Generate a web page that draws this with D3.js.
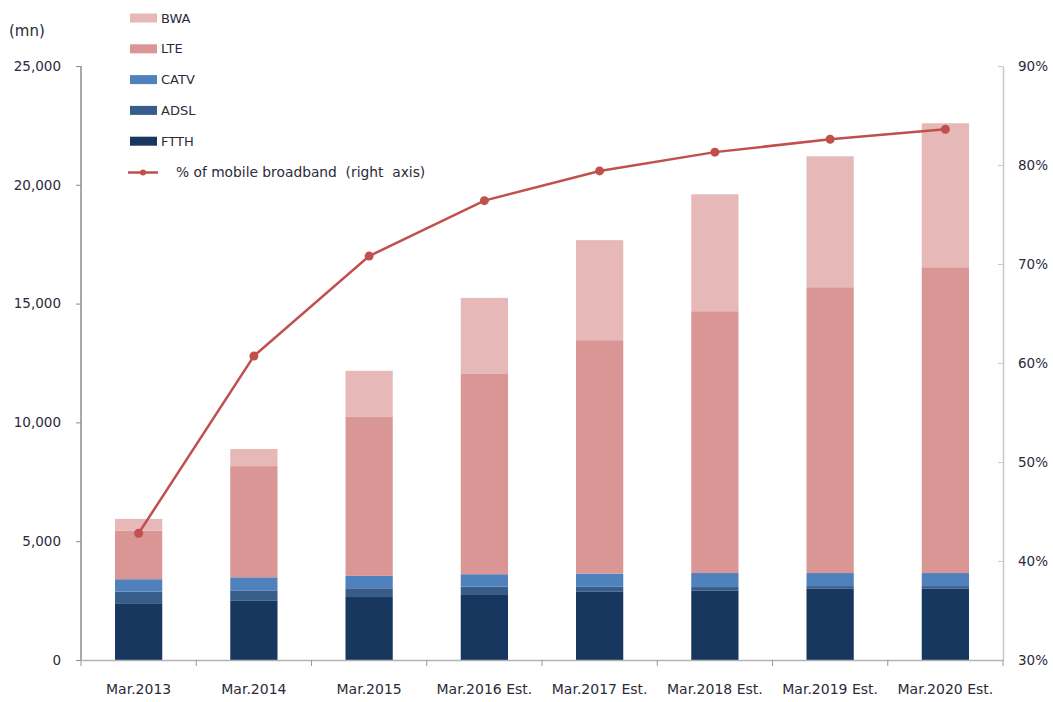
<!DOCTYPE html>
<html>
<head>
<meta charset="utf-8">
<script src="https://cdn.jsdelivr.net/npm/d3@7"></script>
<style>
  body { margin: 0; background: #fff; }
  svg text { font-family: "DejaVu Sans", Verdana, sans-serif; fill: #2b2b3a; }
</style>
</head>
<body>
<div id="chart"></div>
<script>
// categories and series (mn subscribers)
const Categories = ['Mar.2013', 'Mar.2014', 'Mar.2015', 'Mar.2016 Est.', 'Mar.2017 Est.', 'Mar.2018 Est.', 'Mar.2019 Est.', 'Mar.2020 Est.'];
const FTTH = [2360, 2510, 2650, 2770, 2870, 2930, 3000, 3000];
const ADSL = [520, 420, 370, 320, 210, 140, 110, 110];
const CATV = [520, 550, 520, 520, 560, 590, 550, 550];
const LTE  = [2050, 4680, 6690, 8430, 9820, 11020, 12030, 12870];
const BWA  = [490, 720, 1940, 3200, 4210, 4920, 5510, 6060];
const MobileShare = [42.8, 60.7, 70.8, 76.4, 79.4, 81.3, 82.6, 83.6];
const LeftTicks = [0, 5000, 10000, 15000, 20000, 25000];
const RightTicks = [30, 40, 50, 60, 70, 80, 90];

const SeriesNames = ['FTTH', 'ADSL', 'CATV', 'LTE', 'BWA'];
const SeriesColors = { FTTH: '#17375e', ADSL: '#385d8a', CATV: '#4f81bd', LTE: '#d99694', BWA: '#e6b9b8' };
const LineColor = '#c0504d';

const Width = 1053, Height = 702;
const Plot = { left: 81, right: 1003, top: 66, bottom: 660 };

const Rows = Categories.map((c, i) => ({ cat: c, FTTH: FTTH[i], ADSL: ADSL[i], CATV: CATV[i], LTE: LTE[i], BWA: BWA[i] }));

const svg = d3.select('#chart').append('svg')
  .attr('width', Width)
  .attr('height', Height);

const x = d3.scaleBand().domain(Categories).range([Plot.left, Plot.right]).paddingInner(0).paddingOuter(0);
const yL = d3.scaleLinear().domain([0, 25000]).range([Plot.bottom, Plot.top]);
const yR = d3.scaleLinear().domain([30, 90]).range([Plot.bottom, Plot.top]);

const barW = x.bandwidth() * 0.41;
const stacked = d3.stack().keys(SeriesNames)(Rows);

// bars
svg.append('g').selectAll('g')
  .data(stacked)
  .join('g')
  .attr('fill', d => SeriesColors[d.key])
  .selectAll('rect')
  .data(d => d)
  .join('rect')
  .attr('x', d => x(d.data.cat) + (x.bandwidth() - barW) / 2)
  .attr('y', d => yL(d[1]))
  .attr('width', barW)
  .attr('height', d => yL(d[0]) - yL(d[1]));

// left axis
const leftAxis = svg.append('g')
  .attr('transform', `translate(${Plot.left},0)`)
  .call(d3.axisLeft(yL).tickValues(LeftTicks).tickSize(5).tickPadding(15).tickFormat(d3.format(',')));
leftAxis.select('.domain').attr('stroke', '#8c8c8c').attr('stroke-width', 1.5).attr('d', `M0,${Plot.top}V${Plot.bottom}`);
leftAxis.selectAll('.tick line').attr('stroke', '#8c8c8c');
leftAxis.selectAll('text').style('font-size', '13.5px').attr('fill', '#2b2b3a');

// right axis
const rightAxis = svg.append('g')
  .attr('transform', `translate(${Plot.right},0)`)
  .call(d3.axisRight(yR).tickValues(RightTicks).tickSizeInner(-5).tickSizeOuter(0).tickPadding(15).tickFormat(d => d + '%'));
rightAxis.select('.domain').attr('stroke', '#c8c8c8').attr('stroke-width', 1.5);
rightAxis.selectAll('.tick line').attr('stroke', '#c8c8c8');
rightAxis.selectAll('text').style('font-size', '13.5px').attr('fill', '#2b2b3a');

// bottom axis: labels under bands, ticks at band edges
const bottomAxis = svg.append('g')
  .attr('transform', `translate(0,${Plot.bottom})`)
  .call(d3.axisBottom(x).tickSize(0).tickPadding(24));
bottomAxis.select('.domain').attr('stroke', '#b4b4b4').attr('stroke-width', 1.5);
bottomAxis.selectAll('text').style('font-size', '14px').attr('fill', '#2b2b3a');
bottomAxis.selectAll('line.edge')
  .data(Categories.map(c => x(c)).concat([Plot.right]))
  .join('line')
  .attr('class', 'edge')
  .attr('x1', d => d).attr('x2', d => d)
  .attr('y1', 0).attr('y2', 6)
  .attr('stroke', '#9a9a9a');

// line on right axis
const line = d3.line()
  .x((d, i) => x(Categories[i]) + x.bandwidth() / 2)
  .y(d => yR(d));
svg.append('path')
  .datum(MobileShare)
  .attr('fill', 'none')
  .attr('stroke', LineColor)
  .attr('stroke-width', 2.5)
  .attr('d', line);
svg.append('g').selectAll('circle')
  .data(MobileShare)
  .join('circle')
  .attr('cx', (d, i) => x(Categories[i]) + x.bandwidth() / 2)
  .attr('cy', d => yR(d))
  .attr('r', 4.5)
  .attr('fill', LineColor);

// unit label
svg.append('text').attr('x', 9).attr('y', 36).style('font-size', '15px').text('(mn)');

// legend
const legendItems = ['BWA', 'LTE', 'CATV', 'ADSL', 'FTTH'];
const legend = svg.append('g');
legendItems.forEach((name, i) => {
  const cy = 18 + i * 30.8;
  legend.append('rect')
    .attr('x', 130).attr('y', cy - 4.5)
    .attr('width', 27).attr('height', 9)
    .attr('fill', SeriesColors[name]);
  legend.append('text')
    .attr('x', 161).attr('y', cy)
    .attr('dy', '0.35em')
    .style('font-size', '13px')
    .text(name);
});
const ly = 172.5;
legend.append('line')
  .attr('x1', 128).attr('x2', 158).attr('y1', ly).attr('y2', ly)
  .attr('stroke', LineColor).attr('stroke-width', 2.5);
legend.append('circle').attr('cx', 143).attr('cy', ly).attr('r', 3).attr('fill', LineColor);
legend.append('text')
  .attr('x', 176).attr('y', ly)
  .attr('dy', '0.35em')
  .style('font-size', '13.8px')
  .attr('xml:space', 'preserve')
  .text('% of mobile broadband  (right  axis)');
</script>
</body>
</html>
